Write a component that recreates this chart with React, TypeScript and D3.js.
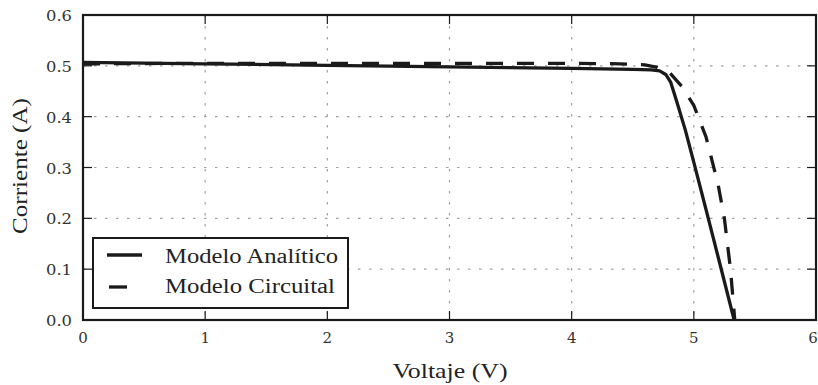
import React from "react";
import * as d3 from "d3";

const xTicks = [0, 1, 2, 3, 4, 5, 6];
const yTicks = [0.0, 0.1, 0.2, 0.3, 0.4, 0.5, 0.6];

const analiticoV = [0, 1, 2, 3, 4, 4.5, 4.65, 4.72, 4.77, 4.81, 4.86, 4.93, 5.0, 5.1, 5.2, 5.33];
const analiticoI = [0.507, 0.504, 0.501, 0.498, 0.495, 0.493, 0.492, 0.49, 0.483, 0.468, 0.43, 0.374, 0.31, 0.217, 0.123, 0.0];

const circuitalV = [0, 1, 2, 3, 4, 4.4, 4.6, 4.7, 4.8, 4.9, 5.0, 5.1, 5.2, 5.25, 5.3, 5.335];
const circuitalI = [0.504, 0.505, 0.505, 0.505, 0.505, 0.504, 0.502, 0.497, 0.487, 0.46, 0.422, 0.36, 0.265, 0.2, 0.1, 0.0];

const legendLabels = ["Modelo Analítico", "Modelo Circuital"];

export default function App() {
  const W = 818, H = 385;
  const left = 83, right = 816, top = 15, bottom = 320;
  const x = d3.scaleLinear().domain([0, 6]).range([left, right]);
  const y = d3.scaleLinear().domain([0, 0.6]).range([bottom, top]);
  const line = d3.line<[number, number]>().x(d => x(d[0])).y(d => y(d[1]));
  const aPts = analiticoV.map((v, i) => [v, analiticoI[i]] as [number, number]);
  const cPts = circuitalV.map((v, i) => [v, circuitalI[i]] as [number, number]);
  const font = "'DejaVu Serif', serif";
  const font2 = "'Liberation Serif', serif";
  const ink = "#1a1a1a";
  return (
    <svg width={W} height={H} style={{ position: "absolute", left: 0, top: 0 }}>
      <rect width={W} height={H} fill="white" />
      <defs>
        <clipPath id="clip">
          <rect x={left} y={top} width={right - left} height={bottom - top} />
        </clipPath>
      </defs>
      {xTicks.map(t => (
        <line key={"gx" + t} x1={x(t)} x2={x(t)} y1={top} y2={bottom} stroke="#a0a0a0" strokeWidth={1.2} strokeDasharray="2.5,8.5" />
      ))}
      {yTicks.map(t => (
        <line key={"gy" + t} x1={left} x2={right} y1={y(t)} y2={y(t)} stroke="#a0a0a0" strokeWidth={1.2} strokeDasharray="2.5,8.5" />
      ))}
      {xTicks.map(t => (
        <g key={"tx" + t}>
          <line x1={x(t)} x2={x(t)} y1={bottom} y2={bottom - 9} stroke={ink} strokeWidth={1.2} />
          <line x1={x(t)} x2={x(t)} y1={top} y2={top + 9} stroke={ink} strokeWidth={1.2} />
          <text x={t === 6 ? x(t) - 3 : x(t)} y={bottom + 23} fontSize={15} fontFamily={font} textAnchor="middle" fill="#333">{t}</text>
        </g>
      ))}
      {yTicks.map(t => (
        <g key={"ty" + t}>
          <line x1={left} x2={left + 9} y1={y(t)} y2={y(t)} stroke={ink} strokeWidth={1.2} />
          <line x1={right} x2={right - 9} y1={y(t)} y2={y(t)} stroke={ink} strokeWidth={1.2} />
          <text x={72} y={y(t) + 6} fontSize={15} fontFamily={font} textAnchor="end" fill="#333" textLength={26} lengthAdjust="spacingAndGlyphs">{t.toFixed(1)}</text>
        </g>
      ))}
      <g clipPath="url(#clip)">
        <path d={line(aPts) || ""} fill="none" stroke={ink} strokeWidth={3.3} strokeLinejoin="round" />
        <path d={line(cPts) || ""} fill="none" stroke={ink} strokeWidth={3.3} strokeDasharray="17,14" />
      </g>
      <rect x={left} y={top} width={right - left} height={bottom - top} fill="none" stroke={ink} strokeWidth={2.2} />
      <g>
        <rect x={93} y={238} width={255} height={70} fill="white" stroke={ink} strokeWidth={2} />
        <line x1={107} x2={142} y1={255} y2={255} stroke={ink} strokeWidth={3.3} />
        <line x1={109} x2={127} y1={287} y2={287} stroke={ink} strokeWidth={3.3} />
        <text x={165} y={263} fontSize={20} fontFamily={font2} fill="#222" textLength={173} lengthAdjust="spacingAndGlyphs">{legendLabels[0]}</text>
        <text x={165} y={293} fontSize={20} fontFamily={font2} fill="#222" textLength={170} lengthAdjust="spacingAndGlyphs">{legendLabels[1]}</text>
      </g>
      <text x={450} y={378} fontSize={21} fontFamily={font2} textAnchor="middle" fill="#222" textLength={115} lengthAdjust="spacingAndGlyphs">Voltaje (V)</text>
      <text transform={`translate(27,166) rotate(-90)`} fontSize={21} fontFamily={font2} textAnchor="middle" fill="#222" textLength={136} lengthAdjust="spacingAndGlyphs">Corriente (A)</text>
    </svg>
  );
}
